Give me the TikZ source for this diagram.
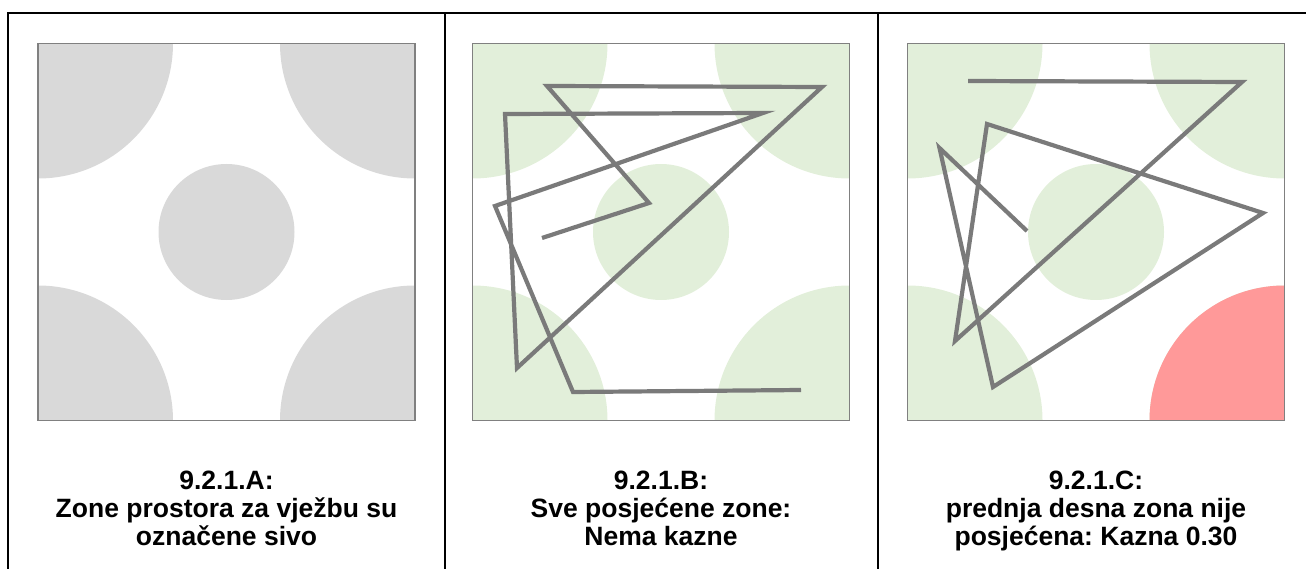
\documentclass[tikz,border=0pt]{standalone}
\usepackage{fontspec}
\setmainfont{Liberation Sans}
\usepackage{xcolor}
\usetikzlibrary{positioning}
\definecolor{zonegray}{RGB}{217, 217, 217}
\definecolor{zonegreen}{RGB}{226, 239, 218}
\definecolor{zonered}{RGB}{255, 153, 153}
\definecolor{framegray}{RGB}{128, 128, 128}
\definecolor{trackgray}{RGB}{122, 122, 122}
\frenchspacing
\begin{document}
\begin{tikzpicture}[
        x=1pt, y=-1pt,
        field/.style={draw=framegray, line width=1.5pt, minimum size=377pt, inner sep=0pt},
        caption/.style={font=\fontsize{26.5}{28}\selectfont\bfseries, align=center, inner sep=0pt, anchor=north},
        track/.style={draw=trackgray, line width=4.2pt},
        frame/.style={line width=2pt}
      ]
        \useasboundingbox (0,0) rectangle (1306,569);
        \foreach \px/\zc in {38/zonegray, 472.5/zonegreen, 907.5/zonegreen} {
          \begin{scope}
            \clip (\px,43.5) rectangle ++(377,377);
            \foreach \cx/\cy in {0/0, 377/0, 0/377, 377/377}
              \fill[\zc] (\px+\cx,43.5+\cy) circle[radius=135];
            \fill[\zc] (\px+188.5,232) circle[radius=68];
          \end{scope}
        }
        \begin{scope}
          \clip (907.5,43.5) rectangle ++(377,377);
          \fill[zonered] (1284.5,420.5) circle[radius=135];
        \end{scope}
        \node[field] (fieldA) at (226.5,232) {};
        \node[field] (fieldB) at (661,232) {};
        \node[field] (fieldC) at (1096,232) {};
        \draw[track] (542,238) -- (649,203) -- (547,86) -- (822,87) -- (517,368) -- (505,114)
              -- (763,113) -- (495,206) -- (573,392) -- (801,390);
        \draw[track] (968,81) -- (1242,82) -- (955,341) -- (987,124) -- (1263,213) -- (993,387)
              -- (939.5,148) -- (1027,231);
        \node[caption] (capA) at (226.5,470.5) {9.2.1.A:\\Zone prostora za vježbu su\\označene sivo};
        \node[caption] (capB) at (661,470.5) {9.2.1.B:\\Sve posjećene zone:\\Nema kazne};
        \node[caption] (capC) at (1096,470.5) {9.2.1.C:\\prednja desna zona nije\\posjećena: Kazna 0.30};
        \draw[frame] (8,569) -- (8,13) -- (1306,13);
        \draw[frame] (445,13) -- (445,569);
        \draw[frame] (878,13) -- (878,569);
      \end{tikzpicture}
\end{document}
